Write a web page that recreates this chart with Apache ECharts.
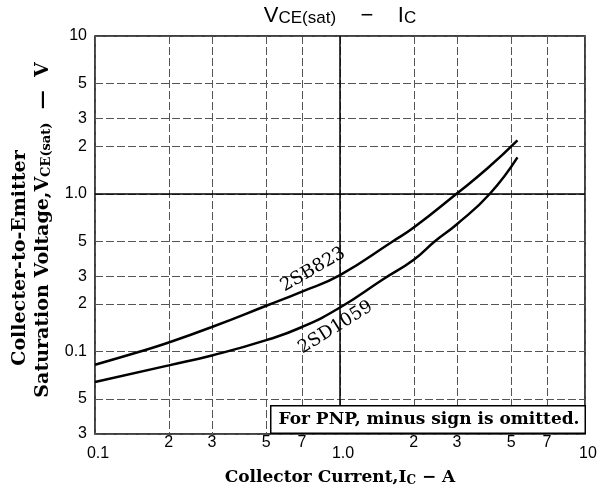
<!DOCTYPE html>
<html>
<head>
<meta charset="utf-8">
<script src="https://cdn.jsdelivr.net/npm/echarts@6/dist/echarts.min.js"></script>
<style>html,body{margin:0;padding:0;background:#fff;}#c{width:601px;height:496px;}</style>
</head>
<body>
<div id="c"></div>
<script>
// ---- data ----
var xTicks = [0.1, 0.2, 0.3, 0.5, 0.7, 1, 2, 3, 5, 7, 10];
var xTickLabels = ['0.1', '2', '3', '5', '7', '1.0', '2', '3', '5', '7', '10'];
var yTicks = [0.03, 0.05, 0.1, 0.2, 0.3, 0.5, 1, 2, 3, 5, 10];
var yTickLabels = ['3', '5', '0.1', '2', '3', '5', '1.0', '2', '3', '5', '10'];

var sb823X = [0.1, 0.153, 0.2, 0.3, 0.5, 0.7, 1.0, 1.645, 2.0, 2.99, 4.0, 5.3];
var sb823Y = [0.0825, 0.1, 0.114, 0.143, 0.195, 0.24, 0.305, 0.5, 0.61, 1.0, 1.45, 2.18];
var sd1059X = [0.1, 0.2, 0.3, 0.5, 0.7, 1.0, 1.5, 2.0, 2.44, 3.0, 4.09, 5.3];
var sd1059Y = [0.064, 0.0817, 0.0944, 0.118, 0.143, 0.19, 0.287, 0.382, 0.5, 0.641, 1.0, 1.70];

var labelSB = {text: '2SB823', x: 0.776, y: 0.33};
var labelSD = {text: '2SD1059', x: 0.96, y: 0.142};

function pairs(xs, ys) { return xs.map(function (v, i) { return [v, ys[i]]; }); }
function lookup(vals, labels, v) {
  for (var i = 0; i < vals.length; i++) {
    if (Math.abs(Math.log10(vals[i]) - Math.log10(v)) < 1e-3) return labels[i];
  }
  return '';
}
var serif = '"DejaVu Serif", "Liberation Serif", serif';
var sans = '"Liberation Sans", Arial, sans-serif';

var chart = echarts.init(document.getElementById('c'));
chart.setOption({
  animation: false,
  backgroundColor: '#fff',
  title: {
    text: '{v|V}{s|CE(sat)}{v|    −    I}{s|C}',
    left: 340, textAlign: 'center', top: 3,
    textStyle: {
      fontWeight: 'normal',
      rich: {
        v: {fontFamily: sans, fontSize: 22, fontWeight: 'normal', color: '#000', verticalAlign: 'bottom'},
        s: {fontFamily: sans, fontSize: 17, fontWeight: 'normal', color: '#000', verticalAlign: 'bottom', padding: [7, 0, 0, 0]}
      }
    },
    padding: 0
  },
  grid: {left: 95, right: 16, top: 36, bottom: 62, show: true, borderColor: '#000', borderWidth: 1.5, containLabel: false},
  xAxis: {
    type: 'log', logBase: 10, min: 0.1, max: 10,
    axisLine: {show: false},
    axisTick: {show: false, customValues: xTicks},
    splitLine: {show: true, lineStyle: {color: '#555', width: 1, type: [8, 3]}},
    axisLabel: {
      customValues: xTicks,
      margin: 1,
      formatter: function (v) {
        var t = lookup(xTicks, xTickLabels, v);
        var l = Math.log10(v);
        if (Math.abs(l - Math.round(l)) < 1e-3) return '{d|' + t + '}';
        return '{m|' + t + '}';
      },
      rich: {
        d: {fontFamily: sans, fontSize: 16, color: '#000', padding: [11, 0, 0, 6]},
        m: {fontFamily: sans, fontSize: 16, color: '#000'}
      }
    }
  },
  yAxis: {
    type: 'log', logBase: 10, min: 0.03, max: 10,
    axisLine: {show: false},
    axisTick: {show: false, customValues: yTicks},
    splitLine: {show: true, lineStyle: {color: '#555', width: 1, type: [8, 3]}},
    axisLabel: {
      customValues: yTicks,
      margin: 8,
      fontFamily: sans, fontSize: 16, color: '#000',
      formatter: function (v) { return lookup(yTicks, yTickLabels, v); }
    }
  },
  series: [
    {
      type: 'line', name: '2SB823', data: pairs(sb823X, sb823Y), smooth: 0.5,
      showSymbol: false, lineStyle: {color: '#000', width: 2.5},
      markLine: {
        silent: true, symbol: 'none', label: {show: false},
        lineStyle: {color: '#000', width: 1.5, type: 'solid'},
        data: [{xAxis: 1}, {yAxis: 1}]
      },
      markPoint: {
        symbolSize: 0,
        data: [{coord: [labelSB.x, labelSB.y]}],
        label: {show: true, formatter: labelSB.text, rotate: 30, fontFamily: serif, fontSize: 18, color: '#000', position: 'inside'}
      }
    },
    {
      type: 'line', name: '2SD1059', data: pairs(sd1059X, sd1059Y), smooth: 0.5,
      showSymbol: false, lineStyle: {color: '#000', width: 2.5},
      markPoint: {
        symbolSize: 0,
        data: [{coord: [labelSD.x, labelSD.y]}],
        label: {show: true, formatter: labelSD.text, rotate: 32, fontFamily: serif, fontSize: 18, color: '#000', position: 'inside'}
      }
    }
  ],
  graphic: [
    {
      type: 'text', right: 15, bottom: 62, z: 100,
      style: {
        text: 'For PNP, minus sign is omitted.',
        fontFamily: serif, fontSize: 17, fontWeight: 'bold', fill: '#000',
        backgroundColor: '#fff', borderColor: '#000', borderWidth: 1.5,
        padding: [5, 5, 4, 7]
      }
    },
    {
      type: 'text', x: 20, y: 258, rotation: Math.PI / 2,
      style: {
        text: 'Collecter-to-Emitter',
        fontFamily: serif, fontSize: 19, fontWeight: 'bold', fill: '#000',
        align: 'center', verticalAlign: 'middle'
      }
    },
    {
      type: 'text', x: 43, y: 230, rotation: Math.PI / 2,
      style: {
        text: '{a|Saturation Voltage,V}{b|CE(sat)}{a|  —  V}',
        align: 'center', verticalAlign: 'middle',
        rich: {
          a: {fontFamily: serif, fontSize: 19, fontWeight: 'bold', fill: '#000'},
          b: {fontFamily: serif, fontSize: 13, fontWeight: 'bold', fill: '#000', padding: [7, 0, 0, 0]}
        }
      }
    },
    {
      type: 'text', x: 340, y: 478,
      style: {
        text: '{a|Collector Current,I}{b|C}{a| − A}',
        align: 'center', verticalAlign: 'middle',
        rich: {
          a: {fontFamily: serif, fontSize: 17, fontWeight: 'bold', fill: '#000'},
          b: {fontFamily: serif, fontSize: 12, fontWeight: 'bold', fill: '#000', padding: [6, 0, 0, 0]}
        }
      }
    }
  ]
});
</script>
</body>
</html>
